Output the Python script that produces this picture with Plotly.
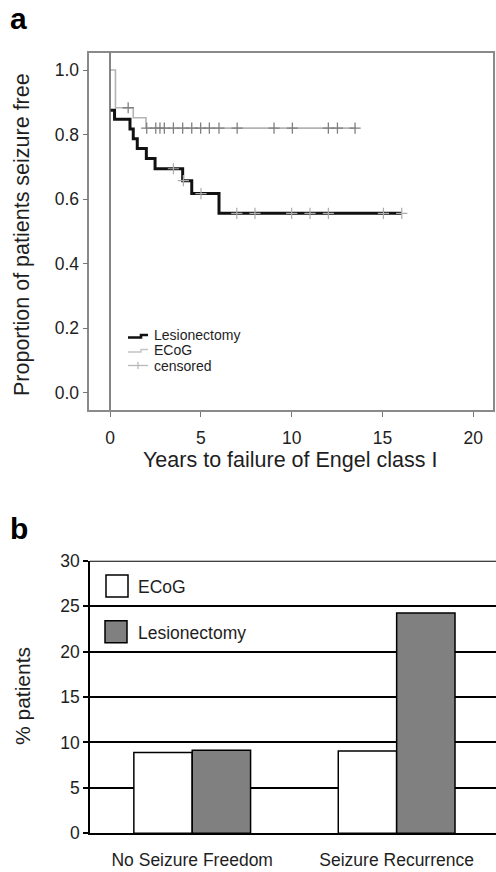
import plotly.graph_objects as go

W, H = 496, 872

# ---------------- Panel a data (Kaplan-Meier) ----------------
les_x = [0.0, 0.25, 1.10, 1.28, 1.50, 2.00, 2.48, 4.00, 4.50, 6.00, 16.06]
les_y = [0.875, 0.847, 0.817, 0.787, 0.757, 0.726, 0.694, 0.657, 0.617, 0.556, 0.556]
ecog_x = [0.0, 0.30, 1.28, 1.98, 13.54]
ecog_y = [1.0, 0.883, 0.852, 0.820, 0.820]
ecog_cens_x = [1.0, 2.02, 2.52, 2.75, 2.99, 3.49, 4.0, 4.5, 4.99, 5.47, 6.0, 7.0, 9.03, 10.04, 12.02, 12.52, 13.49]
ecog_cens_y = [0.883] + [0.820] * 16
les_cens_x = [3.49, 4.04, 5.01, 6.98, 7.98, 10.0, 11.01, 12.02, 15.05, 16.06]
les_cens_y = [0.694, 0.657, 0.617, 0.556, 0.556, 0.556, 0.556, 0.556, 0.556, 0.556]
a_xticks = [0, 5, 10, 15, 20]
a_yticks = [0.0, 0.2, 0.4, 0.6, 0.8, 1.0]
a_yticklabels = ["0.0", "0.2", "0.4", "0.6", "0.8", "1.0"]

# ---------------- Panel b data (bars) ----------------
categories = ["No Seizure Freedom", "Seizure Recurrence"]
ecog_pct = [8.9, 9.05]
lesion_pct = [9.15, 24.25]
b_yticks = [0, 5, 10, 15, 20, 25, 30]

FONT = "Liberation Sans, Arial, Helvetica, sans-serif"
TXT = "#1e1e1e"

def px_x(p):
    return p / W

def px_y(p):
    return 1 - p / H

fig = go.Figure()

# Panel a curves
fig.add_trace(go.Scatter(x=ecog_x, y=ecog_y, mode="lines",
                         line=dict(shape="hv", color="#b4b4b4", width=1.6),
                         xaxis="x", yaxis="y", showlegend=False, hoverinfo="skip"))
fig.add_trace(go.Scatter(x=les_x, y=les_y, mode="lines",
                         line=dict(shape="hv", color="#111111", width=3),
                         xaxis="x", yaxis="y", showlegend=False, hoverinfo="skip"))
fig.add_trace(go.Scatter(x=ecog_cens_x, y=ecog_cens_y, mode="markers",
                         marker=dict(symbol="cross-thin", size=8, line=dict(color="#808080", width=1.3)),
                         xaxis="x", yaxis="y", showlegend=False, hoverinfo="skip"))
fig.add_trace(go.Scatter(x=les_cens_x, y=les_cens_y, mode="markers",
                         marker=dict(symbol="cross-thin", size=8, line=dict(color="#acacac", width=1.2)),
                         xaxis="x", yaxis="y", showlegend=False, hoverinfo="skip"))

# Panel b bars
fig.add_trace(go.Bar(x=categories, y=ecog_pct, name="ECoG",
                     marker=dict(color="white", line=dict(color="black", width=1.5)),
                     xaxis="x2", yaxis="y2", showlegend=False, hoverinfo="skip"))
fig.add_trace(go.Bar(x=categories, y=lesion_pct, name="Lesionectomy",
                     marker=dict(color="#808080", line=dict(color="black", width=1.5)),
                     xaxis="x2", yaxis="y2", showlegend=False, hoverinfo="skip"))

shapes = []
# vertical reference line at x = 0 in panel a
shapes.append(dict(type="line", xref="x", yref="y domain", x0=0, x1=0, y0=0, y1=1,
                   line=dict(color="#666666", width=1.6), layer="above"))
# top border of panel b
shapes.append(dict(type="line", xref="x2 domain", yref="y2", x0=0, x1=1, y0=30, y1=30,
                   line=dict(color="black", width=2)))

# legend symbols panel a
L1, L2, L3 = 334.5, 350.0, 365.5
shapes.append(dict(type="path", xref="paper", yref="paper",
                   path=f"M {px_x(128)} {px_y(L1+3)} L {px_x(141)} {px_y(L1+3)} L {px_x(141)} {px_y(L1+0.5)} L {px_x(148)} {px_y(L1+0.5)}",
                   line=dict(color="#111111", width=2.6)))
shapes.append(dict(type="path", xref="paper", yref="paper",
                   path=f"M {px_x(128)} {px_y(L2+2)} L {px_x(141)} {px_y(L2+2)} L {px_x(141)} {px_y(L2-0.5)} L {px_x(148)} {px_y(L2-0.5)}",
                   line=dict(color="#c4c4c4", width=1.4)))
shapes.append(dict(type="line", xref="paper", yref="paper",
                   x0=px_x(128), x1=px_x(148), y0=px_y(L3), y1=px_y(L3),
                   line=dict(color="#b8b8b8", width=1.3)))
shapes.append(dict(type="line", xref="paper", yref="paper",
                   x0=px_x(138), x1=px_x(138), y0=px_y(L3 - 3.5), y1=px_y(L3 + 3.5),
                   line=dict(color="#b8b8b8", width=1.3)))

# legend boxes panel b
shapes.append(dict(type="rect", xref="paper", yref="paper",
                   x0=px_x(106), x1=px_x(128), y0=px_y(597), y1=px_y(575),
                   fillcolor="white", line=dict(color="black", width=1.5)))
shapes.append(dict(type="rect", xref="paper", yref="paper",
                   x0=px_x(105), x1=px_x(127), y0=px_y(642.7), y1=px_y(620.7),
                   fillcolor="#808080", line=dict(color="black", width=1.5)))

annotations = []

def ann(text, x, y, size, xanchor="center", yanchor="middle", angle=0, bold=False):
    t = f"<b>{text}</b>" if bold else text
    annotations.append(dict(text=t, x=px_x(x), y=px_y(y), xref="paper", yref="paper",
                            xanchor=xanchor, yanchor=yanchor, showarrow=False, textangle=angle,
                            font=dict(family=FONT, size=size, color="black" if bold else TXT)))

ann("a", 8, 18, 30, xanchor="left", bold=True)
ann("b", 8, 528, 30, xanchor="left", bold=True)
ann("Proportion of patients seizure free", 22, 235, 21.5, angle=-90)
ann("Years to failure of Engel class I", 290, 460, 21.5)
ann("% patients", 22, 696, 21, angle=-90)
ann("Lesionectomy", 152, L1, 14, xanchor="left")
ann("ECoG", 152, L2, 14, xanchor="left")
ann("censored", 152, L3, 14, xanchor="left")
ann("ECoG", 136, 587, 17.5, xanchor="left")
ann("Lesionectomy", 136, 632.5, 17.5, xanchor="left")

fig.update_layout(
    width=W, height=H,
    margin=dict(l=0, r=0, t=0, b=0, autoexpand=False),
    paper_bgcolor="white", plot_bgcolor="white",
    barmode="group", bargap=0.429, bargroupgap=0,
    font=dict(family=FONT, color=TXT),
    xaxis=dict(domain=[px_x(89.3), px_x(493.3)], range=[-1.14, 21.10], anchor="y",
               tickvals=a_xticks, ticks="outside", ticklen=5, tickcolor="#777777", tickwidth=1.3,
               showline=True, mirror=True, linecolor="#8a8a8a", linewidth=1.5,
               showgrid=False, zeroline=False, ticklabelstandoff=6, automargin=False,
               tickfont=dict(size=17.5, color=TXT)),
    yaxis=dict(domain=[px_y(410), px_y(52.7)], range=[-0.0536, 1.0536], anchor="x",
               tickvals=a_yticks, ticktext=a_yticklabels, ticks="outside", ticklen=5,
               tickcolor="#777777", tickwidth=1.3, automargin=False,
               showline=True, mirror=True, linecolor="#8a8a8a", linewidth=1.5,
               showgrid=False, zeroline=False,
               tickfont=dict(size=17.5, color=TXT)),
    xaxis2=dict(domain=[px_x(90), 1.0], range=[-0.5, 1.486], anchor="y2",
                type="category", ticks="", showline=True, linecolor="black", linewidth=1.5,
                showgrid=False, zeroline=False, ticklabelstandoff=10, automargin=False,
                tickfont=dict(size=17.5, color=TXT)),
    yaxis2=dict(domain=[px_y(833.3), px_y(560.7)], range=[0, 30], anchor="x2",
                tickvals=b_yticks, ticks="outside", ticklen=5, tickcolor="black", tickwidth=1.5,
                showline=True, linecolor="black", linewidth=1.5, automargin=False,
                showgrid=True, gridcolor="black", gridwidth=1.5, zeroline=False,
                tickfont=dict(size=17.5, color=TXT)),
    shapes=shapes,
    annotations=annotations,
)

fig.write_html("out.html", config={"displayModeBar": False},
               post_script="document.body.style.margin='0';document.body.style.overflow='hidden';")
